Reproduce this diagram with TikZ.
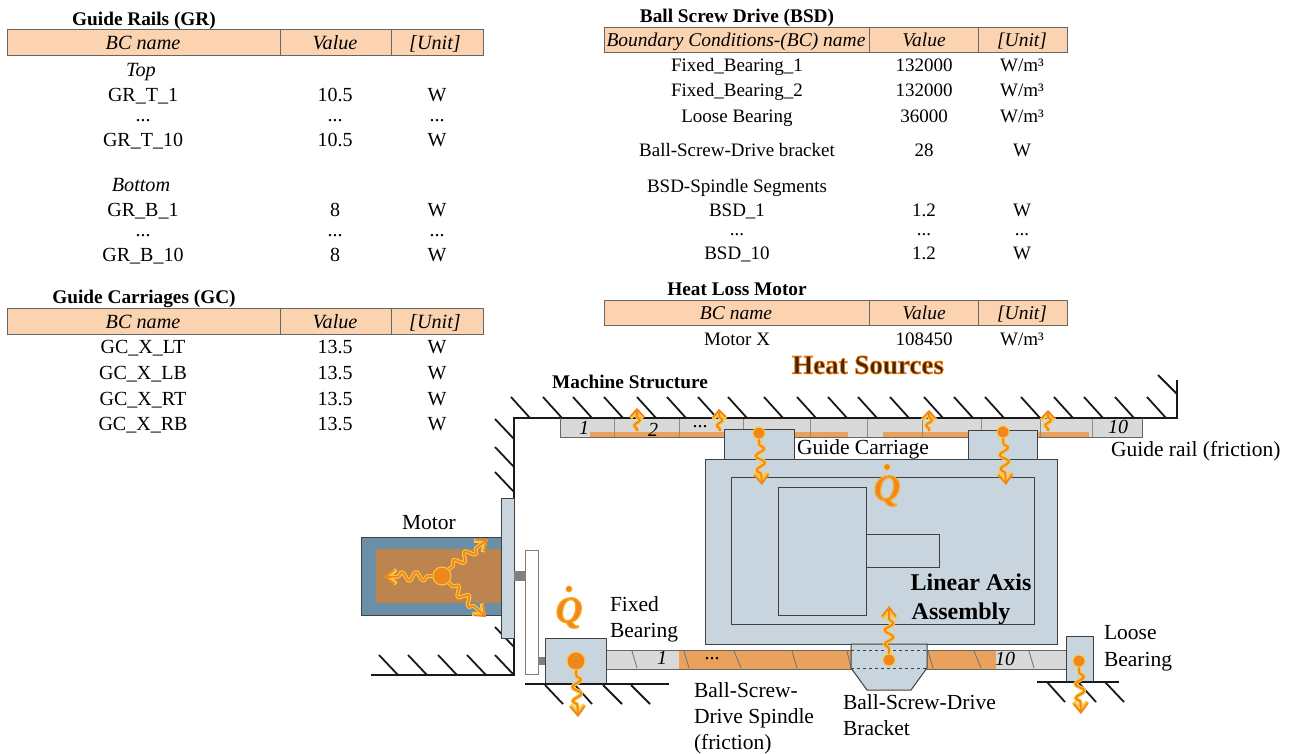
\documentclass[tikz,border=0pt]{standalone}
\usepackage{fontspec}
\setmainfont{Liberation Serif}
\usetikzlibrary{arrows.meta,decorations.pathmorphing}
\definecolor{steelc}{HTML}{C8D5DE}
\definecolor{edgec}{HTML}{404040}
\definecolor{headc}{HTML}{FBD3B0}
\definecolor{railc}{HTML}{D9D9D9}
\definecolor{stripc}{HTML}{EBA05C}
\definecolor{motorc}{HTML}{6A8FA7}
\definecolor{corec}{HTML}{BE844F}
\definecolor{heatc}{HTML}{F0861E}
\definecolor{glowc}{HTML}{FFC83D}
\tikzset{
  x=1pt,y=-1pt,
  base/.style={inner sep=0pt,outer sep=0pt,text height=16pt,text depth=2pt},
  txt/.style={base,font=\fontsize{21.5}{22}\selectfont},
  ltxt/.style={base,font=\fontsize{20}{22}\selectfont},
  litxt/.style={base,font=\fontsize{20.2}{22}\selectfont\itshape},
  rtxt/.style={base,font=\fontsize{19}{22}\selectfont},
  ritxt/.style={base,font=\fontsize{19.5}{22}\selectfont\itshape},
  numt/.style={base,font=\fontsize{20}{22}\selectfont\itshape},
  ttl/.style={base,font=\fontsize{19.3}{22}\selectfont\bfseries},
  lft/.style={txt,anchor=west},
  hatch/.style={line width=1.8pt,black!90},
  wall/.style={line width=2pt,black!90},
  part/.style={draw=edgec,line width=1pt,fill=steelc},
  railseg/.style={draw=edgec!80,line width=0.9pt},
  head/.style={draw=edgec!80,line width=0.9pt,fill=headc},
  hdot/.style={circle,fill=heatc,draw=glowc,line width=1pt,inner sep=0pt,minimum size=#1},
  heatg/.style={line width=4pt,glowc,line join=round,-{Straight Barb[length=9pt,width=14pt]},
    decorate,decoration={snake,segment length=#1,amplitude=4.5pt,pre length=5pt,post length=9pt}},
  heatk/.style={line width=1.8pt,heatc,line join=round,-{Straight Barb[length=9pt,width=14pt]},
    decorate,decoration={snake,segment length=#1,amplitude=4.5pt,pre length=5pt,post length=9pt}},
  heatsg/.style={line width=4pt,glowc,line join=round,-{Straight Barb[length=7pt,width=13pt]},
    decorate,decoration={snake,segment length=11pt,amplitude=3pt,pre length=2pt,post length=6pt}},
  heatsk/.style={line width=1.8pt,heatc,line join=round,-{Straight Barb[length=7pt,width=13pt]},
    decorate,decoration={snake,segment length=11pt,amplitude=3pt,pre length=2pt,post length=6pt}},
}
\newcommand{\heatline}[3][14pt]{\draw[heatg=#1] (#2) -- (#3);\draw[heatk=#1] (#2) -- (#3);}
\newcommand{\heatshort}[2]{\draw[heatsg] (#1) -- (#2);\draw[heatsk] (#1) -- (#2);}
\newcommand{\glowtext}[1]{\special{pdf:code q 2 Tr 0.8 w 0.93 0.49 0.10 RG}#1\special{pdf:code Q}}
\newcommand{\glowq}[1]{\special{pdf:code q 2 Tr 1.3 w 0.98 0.66 0.14 RG}#1\special{pdf:code Q}}
\newcommand{\rowL}[5]{\node[ltxt] (#1n) at (143,#2) {#3};\node[ltxt] (#1v) at (335,#2) {#4};\node[ltxt] (#1u) at (437,#2) {#5};}
\newcommand{\rowR}[5]{\node[rtxt] (#1n) at (737,#2) {#3};\node[rtxt] (#1v) at (924,#2) {#4};\node[rtxt] (#1u) at (1022,#2) {#5};}
\newcommand{\headL}[2]{\path[head] (7,#2) rectangle (483,#2+26);\draw[railseg] (280,#2) -- (280,#2+26) (391,#2) -- (391,#2+26);
 \node[litxt] (#1n) at (143,#2+13) {BC name};\node[litxt] (#1v) at (335,#2+13) {Value};\node[litxt] (#1u) at (435,#2+13) {[Unit]};}
\newcommand{\headR}[3]{\path[head] (604,#2) rectangle (1067,#2+25);\draw[railseg] (869,#2) -- (869,#2+25) (978,#2) -- (978,#2+25);
 \node[ritxt] (#1n) at (736,#2+12.5) {#3};\node[ritxt] (#1v) at (924,#2+12.5) {Value};\node[ritxt] (#1u) at (1022,#2+12.5) {[Unit]};}
\begin{document}
\begin{tikzpicture}
\useasboundingbox (0,0) rectangle (1296,753);
% tables
\node[ttl] (t1) at (144,18) {Guide Rails (GR)};
\headL{ha}{29}
\node[litxt] (top) at (141,69) {Top};
\rowL{a}{94}{GR\_T\_1}{10.5}{W}
\rowL{b}{114}{...}{...}{...}
\rowL{c}{139}{GR\_T\_10}{10.5}{W}
\node[litxt] (bot) at (141,184) {Bottom};
\rowL{d}{209}{GR\_B\_1}{8}{W}
\rowL{e}{229}{...}{...}{...}
\rowL{f}{254}{GR\_B\_10}{8}{W}
\node[ttl] (t2) at (144,296) {Guide Carriages (GC)};
\headL{hb}{308}
\rowL{g}{346}{GC\_X\_LT}{13.5}{W}
\rowL{h}{372}{GC\_X\_LB}{13.5}{W}
\rowL{i}{398}{GC\_X\_RT}{13.5}{W}
\rowL{j}{423}{GC\_X\_RB}{13.5}{W}
\node[ttl] (t3) at (737,15) {Ball Screw Drive (BSD)};
\headR{hc}{27}{Boundary Conditions-(BC) name}
\rowR{k}{64}{Fixed\_Bearing\_1}{132000}{W/m³}
\rowR{l}{89}{Fixed\_Bearing\_2}{132000}{W/m³}
\rowR{m}{115}{Loose Bearing}{36000}{W/m³}
\rowR{n}{149}{Ball-Screw-Drive bracket}{28}{W}
\node[rtxt] (seg) at (737,185) {BSD-Spindle Segments};
\rowR{o}{209}{BSD\_1}{1.2}{W}
\rowR{p}{228}{...}{...}{...}
\rowR{q}{252}{BSD\_10}{1.2}{W}
\node[ttl] (t4) at (737,288) {Heat Loss Motor};
\headR{hd}{300}{BC name}
\rowR{r}{338}{Motor X}{108450}{W/m³}
% titles
\node[inner sep=0pt,font=\fontsize{27}{28}\selectfont\bfseries,text=black!60!heatc!70!black] (hs) at (868,365) {\glowtext{Heat Sources}};
\node[ttl] (ms) at (630,381) {Machine Structure};
% wall and hatching
\foreach \e in {530,562,592,623,656,686,717,747,783,816,847,877,909,943,973,1004,1040,1073,1103,1134,1166}
  \draw[hatch] (\e-19,397) -- (\e,418);
\draw[hatch] (1158,375) -- (1177,394);
\foreach \e in {439,467,492,647}
  \draw[hatch] (495,\e-20) -- (514,\e);
\foreach \e in {398,427,457,486,514}
  \draw[hatch] (\e-19,655) -- (\e,675);
\draw[wall] (1177,380) -- (1177,418) -- (514,418) -- (514,675) -- (371,675);
% guide rail
\path[fill=railc] (560,419) rectangle (1142,437);
\foreach \a/\b in {590/724,795/848,883/968,1038/1089}
  \path[fill=stripc] (\a,432) rectangle (\b,436.5);
\foreach \d in {614,679,743,810,867,922,981,1040,1092}
  \draw[railseg,edgec!60] (\d,419) -- (\d,437);
\draw[railseg] (560,418) -- (560,437) -- (1142,437) -- (1142,418);
\node[numt] (r1) at (584,427) {1};
\node[numt] (r2) at (653,429) {2};
\node[ltxt] (r3) at (700,420) {...};
\node[numt] (r10) at (1118,426) {10};
% axis assembly
\path[part] (705,459) rectangle (1057,644);
\path[part] (731,477) rectangle (1034,624);
\path[part] (778,487) rectangle (866,615);
\path[part] (866,534) rectangle (939,567);
\path[part] (724,429) rectangle (794,459);
\path[part] (968,430) rectangle (1037,459);
% ball screw
\path[fill=railc] (606,650) rectangle (1066,669);
\path[fill=stripc] (679,650) rectangle (996,669);
\foreach \a/\b in {632/637,684/689,734/741,792/797,847/851,928/933,974/981,1029/1034}
  \draw[railseg,edgec!70] (\a,651) -- (\b,668);
\draw[railseg] (606,650) -- (1066,650) (606,669) -- (1066,669);
\node[numt] (s1) at (662,657) {1};
\node[ltxt] (s2) at (712,652) {...};
\node[numt] (s10) at (1005,658) {10};
% bracket
\path[part] (851,644) -- (927,644) -- (927,668) -- (911,690) -- (867,690) -- (851,668) -- cycle;
\draw[edgec,line width=1pt,dashed] (851,650) -- (927,650) (851,668) -- (927,668);
% motor
\path[draw=edgec,line width=1pt,fill=motorc] (361,537) rectangle (501,615);
\path[fill=corec] (376,549) rectangle (501,603);
\path[part] (501,498) rectangle (514,638);
\path[fill=gray] (514,571) rectangle (525,581);
\path[draw=gray,line width=1pt,fill=white] (525,550) rectangle (538,674);
\path[fill=gray] (538,657) rectangle (545,665);
% bearings
\draw[hatch] (545,685) -- (563,704) (575,685) -- (592,704) (603,685) -- (622,704) (631,685) -- (650,704);
\draw[hatch] (1047,682) -- (1065,702) (1078,682) -- (1096,702) (1105,682) -- (1124,702);
\path[part] (545,638) rectangle (606,684);
\path[part] (1066,636) rectangle (1093,682);
\draw[line width=1.5pt,black!90] (525,684) -- (669,684);
\draw[line width=1.5pt,black!90] (1037,682) -- (1119,682);
% heat dots
\node[hdot=18pt] (dm) at (442,576) {};
\node[hdot=18pt] (df) at (576,661) {};
\node[hdot=12pt] (dl) at (1079,661) {};
\node[hdot=12pt] (db) at (889,660) {};
\node[hdot=12pt] (dc) at (759,433) {};
\node[hdot=12pt] (dd) at (1003,432) {};
\coordinate (am) at (384,577);
\coordinate (an) at (488,539);
\coordinate (ao) at (486,617);
\coordinate (af) at (578,717);
\coordinate (al) at (1081,714);
\coordinate (ab) at (889,606);
\coordinate (ac) at (762,485);
\coordinate (ad) at (1006,485);
\heatline{dm.west}{am}
\heatline{dm.north east}{an}
\heatline{dm.south east}{ao}
\heatline{df.south}{af}
\heatline{dl.south}{al}
\heatline{db.north}{ab}
\heatline{dc.south}{ac}
\heatline{dd.south}{ad}
\coordinate (f1) at (637,431);\coordinate (t1a) at (637,408);
\coordinate (f2) at (720,431);\coordinate (t2a) at (719,409);
\coordinate (f3) at (929,431);\coordinate (t3a) at (929,410);
\coordinate (f4) at (1048,431);\coordinate (t4a) at (1048,410);
\heatshort{f1}{t1a}
\heatshort{f2}{t2a}
\heatshort{f3}{t3a}
\heatshort{f4}{t4a}
% Q dots
\node[inner sep=0pt,text=heatc,font=\fontsize{37}{37}\selectfont\bfseries\itshape] (q1) at (887,491) {\glowq{Q}};
\node[inner sep=0pt,text=heatc,font=\fontsize{37}{37}\selectfont\bfseries\itshape] (q2) at (569,613) {\glowq{Q}};
\node[circle,fill=heatc,draw=glowc,line width=0.6pt,inner sep=0pt,minimum size=6.5pt] (qd1) at (887,467) {};
\node[circle,fill=heatc,draw=glowc,line width=0.6pt,inner sep=0pt,minimum size=6.5pt] (qd2) at (569,589) {};
% labels
\node[lft] (lgc) at (797,447) {Guide Carriage};
\node[lft] (lgr) at (1111,449) {Guide rail (friction)};
\node[txt] (lm) at (429,522) {Motor};
\node[lft] (lfb1) at (610,604) {Fixed};
\node[lft] (lfb2) at (610,630) {Bearing};
\node[lft] (llb1) at (1104,632) {Loose};
\node[lft] (llb2) at (1104,659) {Bearing};
\node[lft] (ls1) at (694,690) {Ball-Screw-};
\node[lft] (ls2) at (694,716) {Drive Spindle};
\node[lft] (ls3) at (694,742) {(friction)};
\node[lft] (lb1) at (843,702) {Ball-Screw-Drive};
\node[lft] (lb2) at (843,728) {Bracket};
\node[base,font=\fontsize{24}{24}\selectfont\bfseries] (la1) at (971,583) {Linear Axis};
\node[base,font=\fontsize{24}{24}\selectfont\bfseries] (la2) at (961,612) {Assembly};
\end{tikzpicture}
\end{document}
